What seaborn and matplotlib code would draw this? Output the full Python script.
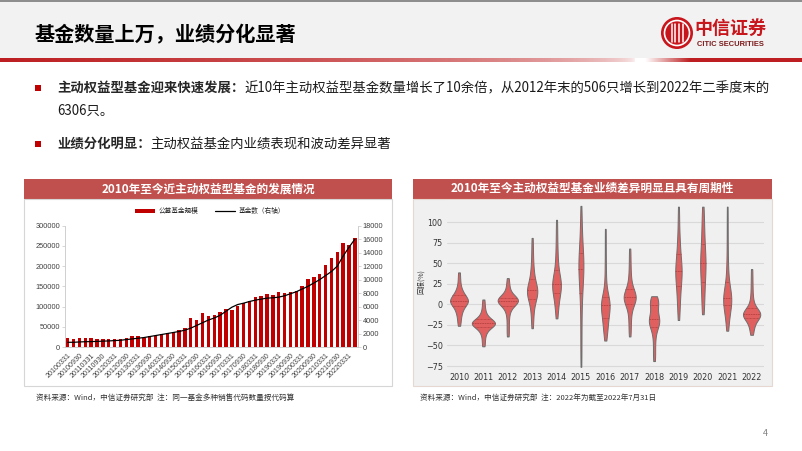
import numpy as np
import pandas as pd
import matplotlib
matplotlib.use("Agg")
import matplotlib.pyplot as plt
from matplotlib.patches import Rectangle, Circle, Patch
from matplotlib.lines import Line2D
import seaborn as sns

# ---------------- data ----------------
quarter_dates = [
    "20100331", "20100630", "20100930", "20101231",
    "20110331", "20110630", "20110930", "20111231",
    "20120331", "20120630", "20120930", "20121231",
    "20130331", "20130630", "20130930", "20131231",
    "20140331", "20140630", "20140930", "20141231",
    "20150331", "20150630", "20150930", "20151231",
    "20160331", "20160630", "20160930", "20161231",
    "20170331", "20170630", "20170930", "20171231",
    "20180331", "20180630", "20180930", "20181231",
    "20190331", "20190630", "20190930", "20191231",
    "20200331", "20200630", "20200930", "20201231",
    "20210331", "20210630", "20210930", "20211231",
    "20220331", "20220630",
]
fund_scale = [
    22000, 19000, 22000, 23000, 22000, 21000, 19000, 19000, 19000, 21000,
    23000, 27000, 26000, 23000, 26000, 28000, 32000, 35000, 38000, 42000,
    47000, 71000, 66000, 84000, 77000, 79000, 86000, 94000, 91000, 101000,
    109000, 113000, 123000, 126000, 132000, 128000, 136000, 134000, 136000, 138000,
    151000, 167000, 172000, 180000, 203000, 220000, 234000, 257000, 252000, 269000,
]
fund_count = [
    700, 700, 750, 780, 800, 830, 870, 900, 950, 1000,
    1100, 1200, 1300, 1400, 1550, 1700, 1850, 2000, 2150, 2300,
    2500, 2800, 3200, 3600, 4000, 4300, 4700, 5300, 5900, 6300,
    6500, 6750, 6950, 7100, 7250, 7300, 7400, 7600, 7900, 8200,
    8600, 9000, 9500, 10000, 10600, 11200, 12000, 13500, 14800, 16000,
]
shown_date_labels = quarter_dates[::2]

years = ["2010", "2011", "2012", "2013", "2014", "2015", "2016",
         "2017", "2018", "2019", "2020", "2021", "2022"]
ret_2010 = [39, 32, 26, 21, 18, 16, 14, 12, 11, 10, 9, 8, 7, 6, 5, 5, 4, 4, 3, 3, 2, 1, 0,
            -1, -2, -4, -6, -8, -10, -13, -17, -21, -26]
ret_2011 = [6, 0, -5, -9, -12, -14, -16, -17, -18, -19, -20, -21, -21, -22, -22, -23, -23,
            -23, -24, -24, -25, -25, -26, -27, -28, -29, -30, -32, -34, -37, -41, -46, -51]
ret_2012 = [32, 26, 21, 17, 14, 12, 10, 9, 8, 7, 7, 6, 6, 5, 5, 5, 4, 4, 3, 3, 2, 1, 0,
            -1, -3, -5, -8, -12, -18, -25, -32, -39]
ret_2013 = [81, 70, 60, 52, 45, 40, 36, 32, 29, 26, 24, 22, 20, 19, 18, 17, 16, 15, 14, 13,
            12, 10, 8, 6, 4, 1, -3, -8, -14, -21, -29]
ret_2014 = [103, 90, 78, 68, 60, 53, 47, 42, 38, 35, 32, 30, 28, 26, 25, 24, 23, 22, 20, 18,
            16, 14, 11, 8, 5, 1, -4, -10, -17]
ret_2015 = [120, 108, 97, 88, 80, 74, 69, 64, 60, 57, 54, 51, 49, 47, 45, 42, 39, 36, 32, 28,
            23, 18, 12, 5, -5, -18, -32, -46, -61, -76]
ret_2016 = [92, 75, 58, 44, 32, 22, 15, 10, 7, 5, 4, 3, 2, 1, 0, -1, -2, -4, -6, -8, -10,
            -12, -15, -18, -21, -24, -27, -30, -33, -38, -44]
ret_2017 = [68, 58, 48, 40, 33, 27, 23, 20, 17, 15, 13, 12, 11, 10, 9, 9, 8, 8, 7, 6, 5, 4,
            2, 0, -3, -7, -12, -18, -25, -32, -39]
ret_2018 = [10, 8, 6.5, 5, 4, 3, 2, 0, -2, -5, -8, -11, -13, -15, -17, -18, -19, -20, -21, -22,
            -23, -24, -26, -28, -31, -35, -40, -47, -55, -62, -69]
ret_2019 = [119, 105, 92, 82, 75, 69, 64, 59, 55, 51, 48, 45, 43, 41, 39, 37, 34, 31, 28, 24,
            20, 15, 10, 5, -2, -10, -19]
ret_2020 = [119, 110, 101, 93, 86, 80, 74, 69, 64, 60, 56, 53, 50, 47, 44, 40, 36, 32, 27, 22,
            16, 10, 3, -4, -12]
ret_2021 = [119, 100, 82, 66, 52, 42, 34, 27, 22, 18, 15, 12, 10, 9, 8, 7, 6, 5, 4, 3, 1, -1,
            -4, -7, -11, -15, -20, -26, -32]
ret_2022 = [43, 33, 24, 16, 9, 4, 0, -3, -5, -7, -8, -9, -10, -11, -11, -12, -12, -12, -13,
            -13, -13, -14, -15, -16, -17, -19, -21, -23, -26, -29, -33, -37]
yearly_returns = [ret_2010, ret_2011, ret_2012, ret_2013, ret_2014, ret_2015, ret_2016,
                  ret_2017, ret_2018, ret_2019, ret_2020, ret_2021, ret_2022]

ret_df = pd.DataFrame({
    "year": [y for y, vals in zip(years, yearly_returns) for _ in vals],
    "ret": [v for vals in yearly_returns for v in vals],
})
scale_df = pd.DataFrame({"date": quarter_dates, "scale": fund_scale})
count_df = pd.DataFrame({"pos": list(range(len(quarter_dates))), "count": fund_count})

# ---------------- style ----------------
sns.set_style("white")
plt.rcParams["font.family"] = ["Noto Sans CJK SC", "DejaVu Sans"]
plt.rcParams["axes.unicode_minus"] = True

W, H = 802, 451
fig = plt.figure(figsize=(W / 100, H / 100), dpi=100)
fig.patch.set_facecolor("white")


def axes_px(x0, y0, x1, y1):
    return fig.add_axes([x0 / W, 1 - y1 / H, (x1 - x0) / W, (y1 - y0) / H])


RED = "#c00000"
BAR_TITLE = "#c0504d"

bg = axes_px(0, 0, W, H)
bg.set_xlim(0, W)
bg.set_ylim(H, 0)
bg.axis("off")
bg.set_zorder(0)

# header
bg.add_patch(Rectangle((0, 0), W, 58.5, fc="#f2f2f2", ec="none"))
bg.plot([0, W], [0.7, 0.7], color="#8c8c8c", lw=1.4)
xs = np.arange(W, dtype=float)
a = np.where(xs < 640, np.clip(1 - xs / 635, 0, 1) ** 0.4, np.clip((xs - 645) / 45, 0, 1))
red_rgb = np.array([0.74, 0.12, 0.13])
grad = (1 - a)[:, None] * np.ones(3) + a[:, None] * red_rgb
bg.imshow(grad[None, :, :], extent=(0, W, 62.5, 58.5), aspect="auto", interpolation="bilinear", zorder=1)
bg.set_xlim(0, W)
bg.set_ylim(H, 0)

bg.text(35, 35, "基金数量上万，业绩分化显著", fontsize=14.5, fontweight="bold",
        va="center", ha="left", color="black")

# logo
bg.add_patch(Circle((677, 33), 16, fc="#c8161d", ec="none", zorder=2))
bg.add_patch(Circle((677, 33), 12.5, fc="none", ec="white", lw=1.2, zorder=3))
for dx in (-5.5, -2, 2, 5.5):
    bg.plot([677 + dx, 677 + dx], [24, 42], color="white", lw=1.1, zorder=3)
bg.text(694, 28, "中信证券", fontsize=13, fontweight="bold", color="#c8161d",
        va="center", ha="left")
bg.text(730, 45, "CITIC SECURITIES", fontsize=5.4, fontweight="bold", color="#7a1a1a",
        va="center", ha="center", family=["Liberation Sans", "DejaVu Sans"])

# bullets
fs_body = 9.6
fig.canvas.draw()
renderer = fig.canvas.get_renderer()


def rich_line(x, y, bold, normal):
    t = bg.text(x, y, bold, fontsize=fs_body, fontweight="bold", va="center", ha="left")
    bb = t.get_window_extent(renderer)
    bg.text(bb.x1, y, normal, fontsize=fs_body, va="center", ha="left", color="#1a1a1a")


bg.add_patch(Rectangle((35, 84.5), 6, 6, fc=RED, ec="none"))
rich_line(57, 88, "主动权益型基金迎来快速发展：",
          "近10年主动权益型基金数量增长了10余倍，从2012年末的506只增长到2022年二季度末的")
bg.text(57, 111, "6306只。", fontsize=fs_body, va="center", ha="left", color="#1a1a1a")
bg.add_patch(Rectangle((35, 140.5), 6, 6, fc=RED, ec="none"))
rich_line(57, 144, "业绩分化明显：", "主动权益基金内业绩表现和波动差异显著")

# panels
bg.add_patch(Rectangle((24, 178.5), 368, 20.5, fc=BAR_TITLE, ec="none"))
bg.text(208, 188.7, "2010年至今近主动权益型基金的发展情况", fontsize=8.4, fontweight="bold",
        color="white", ha="center", va="center")
bg.add_patch(Rectangle((24, 199), 368, 187, fc="white", ec="#d6d6d6", lw=0.8))

bg.add_patch(Rectangle((413, 178.5), 359, 20, fc=BAR_TITLE, ec="none"))
bg.text(592.5, 188.5, "2010年至今主动权益型基金业绩差异明显且具有周期性", fontsize=8.4,
        fontweight="bold", color="white", ha="center", va="center")
bg.add_patch(Rectangle((413, 198.5), 359, 187, fc="#f0f0f0", ec="#e6d8d0", lw=0.8))

# footnotes
bg.text(36, 398, "资料来源：Wind，中信证券研究部  注：同一基金多种销售代码数量按代码算",
        fontsize=5.5, color="#333333", va="center", ha="left")
bg.text(420, 398, "资料来源：Wind，中信证券研究部  注：2022年为截至2022年7月31日",
        fontsize=5.5, color="#333333", va="center", ha="left")
bg.text(765, 433, "4", fontsize=6.5, color="#808080", va="center", ha="center")

# ---------------- left chart ----------------
num_font = ["Liberation Sans", "DejaVu Sans"]
ax1 = axes_px(64.8, 225.7, 357.8, 347)
ax1.set_zorder(2)
ax1.patch.set_alpha(0)
sns.barplot(data=scale_df, x="date", y="scale", color=RED, saturation=1, width=0.58,
            linewidth=0, ax=ax1)
ax1.set_xlim(-0.5, len(quarter_dates) - 0.5)
ax1.set_ylim(0, 300000)
ax1.set_yticks(range(0, 300001, 50000))
ax1.set_yticklabels([str(v) for v in range(0, 300001, 50000)], family=num_font,
                    fontsize=5.3, color="#404040")
ax1.set_xticks(range(0, len(quarter_dates), 2))
ax1.set_xticklabels(shown_date_labels, rotation=45, ha="right", rotation_mode="anchor",
                    family=num_font, fontsize=5.1, color="#404040")
ax1.set_xlabel("")
ax1.set_ylabel("")
for s in ("top", "right"):
    ax1.spines[s].set_visible(False)
for s in ("left", "bottom"):
    ax1.spines[s].set_color("#c8c8c8")
    ax1.spines[s].set_linewidth(0.6)
ax1.tick_params(axis="both", length=2, width=0.5, color="#c8c8c8", pad=1.5)

ax2 = ax1.twinx()
ax2.set_zorder(3)
sns.lineplot(data=count_df, x="pos", y="count", color="black", linewidth=0.9, ax=ax2, legend=False)
ax2.set_xlim(-0.5, len(quarter_dates) - 0.5)
ax2.set_ylim(0, 18000)
ax2.set_yticks(range(0, 18001, 2000))
ax2.set_yticklabels([str(v) for v in range(0, 18001, 2000)], family=num_font,
                    fontsize=5.3, color="#404040")
ax2.set_xlabel("")
ax2.set_ylabel("")
for s in ("top", "left", "bottom"):
    ax2.spines[s].set_visible(False)
ax2.spines["right"].set_color("#c8c8c8")
ax2.spines["right"].set_linewidth(0.6)
ax2.tick_params(axis="y", length=2, width=0.5, color="#c8c8c8", pad=1.5)

handles = [Patch(facecolor=RED, edgecolor="none"), Line2D([0], [0], color="black", lw=0.9)]
fig.legend(handles, ["公募基金规模", "基金数（右轴）"], loc="center",
           bbox_to_anchor=(210 / W, 1 - 211 / H), ncol=2, frameon=False, fontsize=4.8,
           handlelength=3.0, handleheight=0.6, columnspacing=2.5, handletextpad=0.6)

# ---------------- right chart ----------------
ax3 = axes_px(446.8, 200.1, 763.8, 369.3)
ax3.set_zorder(2)
ax3.set_facecolor("#f0f0f0")
ax3.yaxis.grid(True, color="#d9d9d9", lw=0.8)
ax3.set_axisbelow(True)
sns.violinplot(data=ret_df, x="year", y="ret", order=years, color="#e06060", saturation=1,
               inner="quart", cut=0, linewidth=0.7, linecolor="#6e6e6e", width=0.95,
               density_norm="area", bw_adjust=0.7,
               inner_kws=dict(color="#b03a3a", linewidth=0.5), ax=ax3)
ax3.set_xlim(-0.5, len(years) - 0.5)
ax3.set_ylim(-79, 127)
ax3.set_yticks(range(-75, 101, 25))
ax3.set_yticklabels([str(v).replace("-", "\u2212") for v in range(-75, 101, 25)],
                    fontsize=5.8, color="#333333", family=["DejaVu Sans"])
ax3.set_xticks(range(len(years)))
ax3.set_xticklabels(years, fontsize=5.8, color="#333333", family=["DejaVu Sans"])
ax3.set_xlabel("")
ax3.set_ylabel("回报(%)", fontsize=5, color="#333333")
ax3.yaxis.set_label_coords(-0.07, 0.52)
for s in ax3.spines.values():
    s.set_visible(False)
ax3.tick_params(axis="both", length=0, pad=3)

fig.savefig("out.png", dpi=100, facecolor="white")
